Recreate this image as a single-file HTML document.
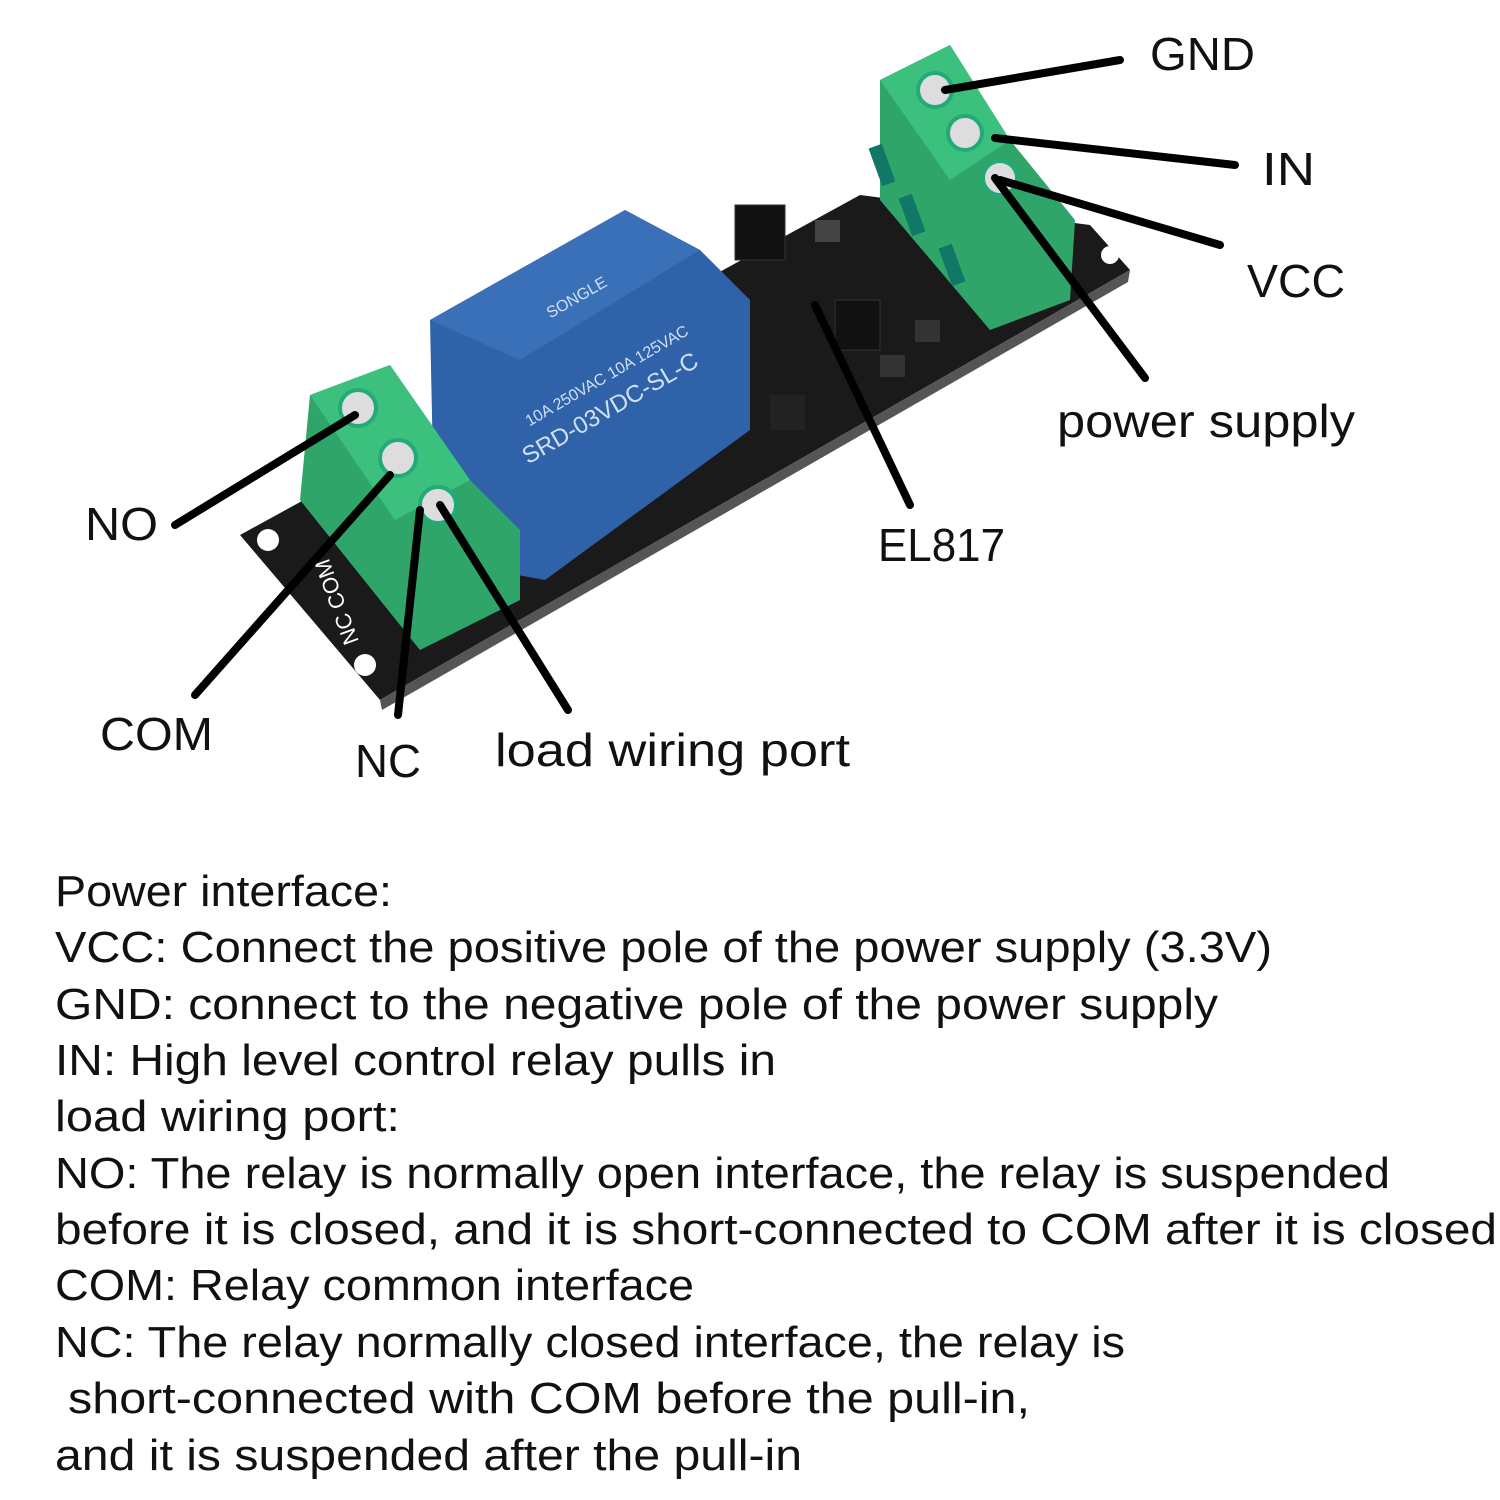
<!DOCTYPE html>
<html><head><meta charset="utf-8"><style>
html,body{margin:0;padding:0;background:#fff;}
svg{display:block}
text{font-family:"Liberation Sans","DejaVu Sans",sans-serif;fill:#111;}
</style></head><body>
<svg width="1500" height="1500" viewBox="0 0 1500 1500" xmlns="http://www.w3.org/2000/svg">
<rect width="1500" height="1500" fill="#fff"/>
<!-- PCB -->
<polygon points="240,535 860,195 1090,225 1130,270 380,700" fill="#1a1a1a"/>
<polygon points="380,700 1130,270 1128,282 382,710" fill="#555"/>
<circle cx="268" cy="540" r="11" fill="#fff"/>
<circle cx="365" cy="665" r="11" fill="#fff"/>
<circle cx="1110" cy="255" r="9" fill="#fff"/>
<text x="300" y="640" font-size="22" transform="rotate(-110 330 620)" style="fill:#fff">NC COM</text>
<!-- jumpers & parts -->
<rect x="735" y="205" width="50" height="55" fill="#111" stroke="#333"/>
<rect x="835" y="300" width="45" height="50" fill="#111" stroke="#333"/>
<rect x="815" y="220" width="25" height="22" fill="#444"/>
<rect x="770" y="395" width="35" height="35" fill="#222"/>
<rect x="880" y="355" width="25" height="22" fill="#333"/>
<rect x="915" y="320" width="25" height="22" fill="#333"/>
<!-- relay -->
<polygon points="430,320 625,210 700,250 750,300 750,430 545,580 435,560" fill="#2f62a8"/>
<polygon points="430,320 625,210 700,250 520,360" fill="#3a70b8"/>
<text x="500" y="440" font-size="24" transform="rotate(-30 560 400)" style="fill:#cfe0f5">SRD-03VDC-SL-C</text>
<text x="510" y="405" font-size="16" transform="rotate(-30 560 380)" style="fill:#cfe0f5">10A 250VAC 10A 125VAC</text>
<text x="540" y="300" font-size="16" transform="rotate(-30 580 290)" style="fill:#cfe0f5">SONGLE</text>
<!-- left terminal -->
<polygon points="310,395 390,365 470,480 520,530 520,600 420,650 300,500" fill="#2fa56a"/>
<polygon points="310,395 390,365 470,480 395,520" fill="#3cc07e"/>
<circle cx="358" cy="408" r="18" fill="#ddd" stroke="#2a7" stroke-width="4"/>
<circle cx="398" cy="458" r="18" fill="#ddd" stroke="#2a7" stroke-width="4"/>
<circle cx="438" cy="505" r="18" fill="#ddd" stroke="#2a7" stroke-width="4"/>
<!-- right terminal -->
<polygon points="880,80 950,45 1010,140 1075,220 1070,300 990,330 880,200" fill="#2fa56a"/>
<polygon points="880,80 950,45 1010,140 950,180" fill="#3cc07e"/>
<circle cx="935" cy="90" r="17" fill="#ddd" stroke="#2a7" stroke-width="4"/>
<circle cx="965" cy="133" r="17" fill="#ddd" stroke="#2a7" stroke-width="4"/>
<circle cx="1000" cy="178" r="17" fill="#ddd" stroke="#2a7" stroke-width="4"/>
<rect x="875" y="145" width="14" height="40" fill="#176" transform="rotate(-20 882 165)"/>
<rect x="905" y="195" width="14" height="40" fill="#176" transform="rotate(-20 912 215)"/>
<rect x="945" y="245" width="14" height="40" fill="#176" transform="rotate(-20 952 265)"/>
<!-- leader lines -->
<g stroke="#000" stroke-width="8" stroke-linecap="round" fill="none">
<line x1="945" y1="90" x2="1120" y2="60"/>
<line x1="995" y1="138" x2="1235" y2="165"/>
<line x1="1000" y1="180" x2="1220" y2="245"/>
<line x1="995" y1="178" x2="1145" y2="378"/>
<line x1="815" y1="305" x2="910" y2="505"/>
<line x1="355" y1="415" x2="175" y2="525"/>
<line x1="390" y1="475" x2="195" y2="695"/>
<line x1="420" y1="510" x2="398" y2="715"/>
<line x1="440" y1="505" x2="568" y2="710"/>
</g>
<!-- labels -->
<g font-size="46">
<text x="1150" y="70" textLength="105" lengthAdjust="spacingAndGlyphs">GND</text>
<text x="1262" y="185" textLength="53" lengthAdjust="spacingAndGlyphs">IN</text>
<text x="1247" y="297" textLength="98" lengthAdjust="spacingAndGlyphs">VCC</text>
<text x="1057" y="437" textLength="298" lengthAdjust="spacingAndGlyphs">power supply</text>
<text x="878" y="561" textLength="127" lengthAdjust="spacingAndGlyphs">EL817</text>
<text x="85" y="540" textLength="73" lengthAdjust="spacingAndGlyphs">NO</text>
<text x="100" y="750" textLength="113" lengthAdjust="spacingAndGlyphs">COM</text>
<text x="355" y="777" textLength="66" lengthAdjust="spacingAndGlyphs">NC</text>
<text x="495" y="766" textLength="355" lengthAdjust="spacingAndGlyphs">load wiring port</text>
</g>
<g font-size="44">
<text x="55" y="906" textLength="337" lengthAdjust="spacingAndGlyphs">Power interface:</text>
<text x="55" y="962" textLength="1217" lengthAdjust="spacingAndGlyphs">VCC: Connect the positive pole of the power supply (3.3V)</text>
<text x="55" y="1019" textLength="1163" lengthAdjust="spacingAndGlyphs">GND: connect to the negative pole of the power supply</text>
<text x="55" y="1075" textLength="721" lengthAdjust="spacingAndGlyphs">IN: High level control relay pulls in</text>
<text x="55" y="1131" textLength="345" lengthAdjust="spacingAndGlyphs">load wiring port:</text>
<text x="55" y="1188" textLength="1335" lengthAdjust="spacingAndGlyphs">NO: The relay is normally open interface, the relay is suspended</text>
<text x="55" y="1244" textLength="1442" lengthAdjust="spacingAndGlyphs">before it is closed, and it is short-connected to COM after it is closed</text>
<text x="55" y="1300" textLength="639" lengthAdjust="spacingAndGlyphs">COM: Relay common interface</text>
<text x="55" y="1357" textLength="1070" lengthAdjust="spacingAndGlyphs">NC: The relay normally closed interface, the relay is</text>
<text x="68" y="1413" textLength="962" lengthAdjust="spacingAndGlyphs">short-connected with COM before the pull-in,</text>
<text x="55" y="1470" textLength="747" lengthAdjust="spacingAndGlyphs">and it is suspended after the pull-in</text>
</g>
</svg>
</body></html>
